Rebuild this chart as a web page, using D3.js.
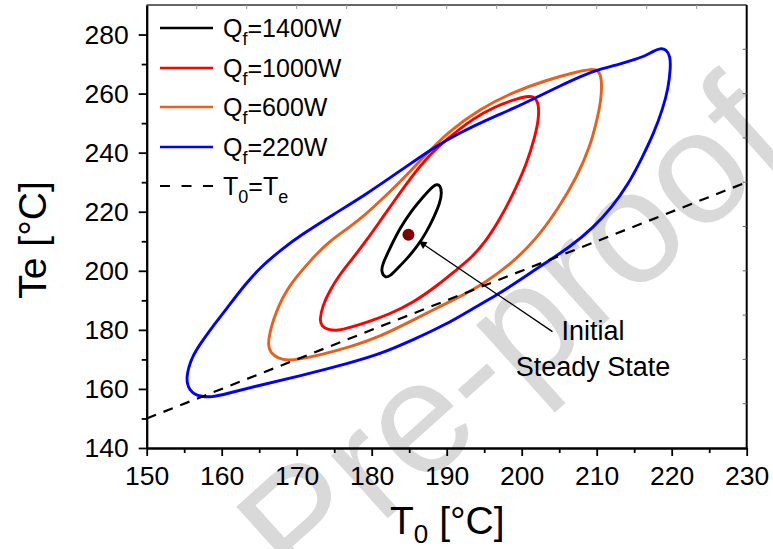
<!DOCTYPE html>
<html><head><meta charset="utf-8">
<script src="https://cdn.jsdelivr.net/npm/d3@7/dist/d3.min.js"></script>
<style>
body{margin:0;background:#fff}
svg{display:block}
text{font-family:"Liberation Sans",Arial,Helvetica,sans-serif}
</style>
</head><body>
<svg id="chart" width="773" height="549"></svg>
<script>
// ---------- data (T0 [°C], Te [°C]) ----------
const xMajorTicks = [150,160,170,180,190,200,210,220,230];
const xMinorTicks = [155,165,175,185,195,205,215,225];
const yMajorTicks = [140,160,180,200,220,240,260,280];
const yMinorTicks = [150,170,190,210,230,250,270];

const seriesNames  = ["Q_f=1400W","Q_f=1000W","Q_f=600W","Q_f=220W"];
const seriesLabels = ["1400W","1000W","600W","220W"];
const seriesColors = ["#000000","#ff0000","#e8601c","#0000ff"];

const loop1400 = [[181.77,197.6],[181.25,199.8],[181.45,202.3],[182.44,207.7],[183.77,214.5],[185.37,220.6],[186.84,225.0],[187.91,227.9],[188.57,229.4],[189.15,229.0],[189.35,226.4],[189.11,223.0],[188.31,218.2],[187.24,212.8],[186.04,208.1],[184.57,203.7],[183.24,200.3],[182.44,198.2]];

const loop1000 = [[173.05,183.3],[173.44,188.1],[174.44,193.5],[175.77,198.9],[177.37,203.9],[179.33,210.4],[181.11,216.8],[182.71,222.6],[185.51,232.6],[187.77,239.4],[190.04,244.6],[193.51,251.6],[196.44,255.6],[198.84,257.8],[200.71,259.2],[201.7,259.0],[202.3,256.5],[202.25,251.1],[201.77,245.5],[200.71,236.5],[198.97,226.6],[197.11,217.5],[195.11,209.6],[193.11,204.0],[191.51,200.8],[188.71,194.9],[185.51,189.2],[182.44,185.4],[179.33,182.5],[177.11,180.8],[175.51,179.7],[174.17,180.0],[173.31,181.3]];

const loop600 = [[166.15,174.9],[166.44,179.3],[166.88,183.3],[167.64,188.4],[168.67,193.5],[170.04,198.2],[171.77,203.3],[174.2,209.8],[177.11,214.9],[179.11,218.9],[181.11,223.6],[183.51,229.4],[186.84,238.3],[190.04,246.8],[194.44,254.9],[198.84,260.5],[203.33,264.6],[207.11,267.2],[209.37,268.4],[210.25,267.9],[210.7,265.0],[210.6,257.8],[210.04,251.1],[209.11,242.0],[207.37,231.8],[204.84,220.9],[201.91,210.6],[198.44,202.0],[194.84,195.5],[192.17,191.8],[188.71,187.4],[185.51,183.3],[181.11,177.7],[177.11,174.2],[173.11,171.5],[170.44,170.1],[168.84,169.6],[167.51,170.3],[166.5,172.3]];

const loop220 = [[155.35,164.0],[155.55,167.0],[156.1,171.0],[157.2,175.5],[158.6,180.5],[160.67,187.2],[163.11,195.4],[165.4,201.8],[168.17,207.6],[170.44,211.9],[174.84,219.0],[179.37,226.1],[183.77,233.8],[188.17,241.6],[191.77,246.8],[195.77,251.6],[198.84,254.9],[202.44,259.3],[205.11,262.6],[207.77,265.8],[210.44,268.3],[213.11,270.0],[215.24,271.7],[216.44,272.7],[217.51,274.3],[218.44,275.4],[219.3,274.9],[219.8,272.6],[219.85,268.7],[219.55,261.9],[218.84,255.1],[217.64,246.7],[216.04,238.2],[214.17,229.1],[212.04,221.6],[209.51,214.5],[206.44,208.1],[203.37,203.0],[201.51,199.9],[199.77,196.9],[196.71,191.8],[193.11,186.7],[190.04,182.0],[185.51,176.6],[181.11,171.8],[177.11,168.8],[170.44,164.4],[164.17,160.7],[160.44,158.2],[158.6,157.2],[157.3,157.4],[156.3,158.3],[155.7,159.8],[155.4,161.8]];

const diagonal = [[150,150],[230,230]];          // T0 = Te
const steadyState = [184.9, 212.2];               // initial steady state
const arrowFrom = [204.1, 179.4], arrowTo = [186.35, 209.9];
const annotationLines = ["Initial","Steady State"];

// ---------- layout ----------
const svg = d3.select("#chart");
const x = d3.scaleLinear().domain([150,230]).range([146.7,746.7]);
const y = d3.scaleLinear().domain([140,290]).range([448,5]);
const X0=x.range()[0], X1=x.range()[1], Y0=y.range()[0], Y1=y.range()[1];

svg.append("rect").attr("width",773).attr("height",549).attr("fill","#fff");

// watermark
svg.append("text")
  .attr("transform","translate(548,374) rotate(-42)")
  .attr("text-anchor","middle")
  .attr("font-size",160)
  .attr("fill","#d9d9d9")
  .text("Pre-proof");

// ---------- curves ----------
const line = d3.line().x(d=>x(d[0])).y(d=>y(d[1])).curve(d3.curveBasisClosed);
const loops = [loop1400, loop1000, loop600, loop220];
const gCurves = svg.append("g");
[0,1,2,3].forEach(i=>{
  gCurves.append("path").attr("d", line(loops[i]))
    .attr("fill","none").attr("stroke",seriesColors[i])
    .attr("stroke-width",2.9).attr("stroke-linejoin","round");
});

// diagonal
svg.append("path")
  .attr("d", d3.line().x(d=>x(d[0])).y(d=>y(d[1]))(diagonal))
  .attr("stroke","#000").attr("stroke-width",2.2).attr("stroke-dasharray","10,8").attr("fill","none");

// steady state dot
svg.append("circle").attr("cx",x(steadyState[0])).attr("cy",y(steadyState[1]))
  .attr("r",6).attr("fill","#7f0000");

// arrow
svg.append("defs").append("marker").attr("id","ah")
  .attr("viewBox","0 0 10 10").attr("refX",9).attr("refY",5)
  .attr("markerWidth",9).attr("markerHeight",8).attr("markerUnits","userSpaceOnUse")
  .attr("orient","auto")
  .append("path").attr("d","M0,0 L10,5 L0,10 Z").attr("fill","#000");
svg.append("line")
  .attr("x1",x(arrowFrom[0])).attr("y1",y(arrowFrom[1]))
  .attr("x2",x(arrowTo[0])).attr("y2",y(arrowTo[1]))
  .attr("stroke","#000").attr("stroke-width",1.3).attr("marker-end","url(#ah)");

const ann = svg.append("text").attr("font-size",27).attr("text-anchor","middle");
ann.append("tspan").attr("x",593).attr("y",340).text(annotationLines[0]);
ann.append("tspan").attr("x",593).attr("y",376).text(annotationLines[1]);

// ---------- axes ----------
svg.append("g").attr("transform",`translate(0,${Y0})`)
  .call(d3.axisBottom(x).tickValues(xMajorTicks).tickSize(8).tickSizeOuter(0).tickPadding(10).tickFormat(d3.format("d")));
svg.append("g").attr("transform",`translate(0,${Y0})`)
  .call(d3.axisBottom(x).tickValues(xMinorTicks).tickSize(5).tickSizeOuter(0).tickFormat(""));
svg.append("g").attr("transform",`translate(${X0},0)`)
  .call(d3.axisLeft(y).tickValues(yMajorTicks).tickSize(8).tickSizeOuter(0).tickPadding(10).tickFormat(d3.format("d")));
svg.append("g").attr("transform",`translate(${X0},0)`)
  .call(d3.axisLeft(y).tickValues(yMinorTicks).tickSize(5).tickSizeOuter(0).tickFormat(""));
svg.selectAll(".domain").attr("stroke","#000").attr("stroke-width",2);
svg.selectAll(".tick line").attr("stroke","#000").attr("stroke-width",1.8);
svg.selectAll(".tick text").attr("font-size",26.5).attr("fill","#000")
  .attr("font-family",'"Liberation Sans",Arial,sans-serif');

// top & right axis lines with fine ticks
const tTop = d3.scaleLinear().domain([0,12]).range([X0,X1]);
const tRight = d3.scaleLinear().domain([0,10]).range([Y0,Y1]);
svg.append("line").attr("x1",X0).attr("x2",X1).attr("y1",Y1).attr("y2",Y1).attr("stroke","#333").attr("stroke-width",1.6);
svg.append("line").attr("x1",X1).attr("x2",X1).attr("y1",Y1).attr("y2",Y0).attr("stroke","#000").attr("stroke-width",2);
svg.append("g").selectAll("line").data(d3.range(1,12)).join("line")
  .attr("x1",d=>tTop(d)).attr("x2",d=>tTop(d)).attr("y1",Y1).attr("y2",Y1+4)
  .attr("stroke","#999").attr("stroke-width",1);
svg.append("g").selectAll("line").data(d3.range(1,10)).join("line")
  .attr("x1",X1-4).attr("x2",X1).attr("y1",d=>tRight(d)).attr("y2",d=>tRight(d))
  .attr("stroke","#666").attr("stroke-width",1);

// axis titles
svg.append("text").attr("transform","translate(46,240) rotate(-90)")
  .attr("text-anchor","middle").attr("font-size",39).text("Te [°C]");
const xt = svg.append("text").attr("x",390).attr("y",534).attr("font-size",39);
xt.append("tspan").text("T");
xt.append("tspan").attr("font-size",26).attr("dy",9).text("0");
xt.append("tspan").attr("dy",-9).text(" [°C]");

// ---------- legend ----------
const lg = svg.append("g");
const rowY = [28,68,107,147,186];
seriesNames.forEach((n,i)=>{
  lg.append("line").attr("x1",160).attr("x2",213).attr("y1",rowY[i]).attr("y2",rowY[i])
    .attr("stroke",seriesColors[i]).attr("stroke-width",2.5);
  const t = lg.append("text").attr("x",223).attr("y",rowY[i]+9).attr("font-size",25);
  t.append("tspan").text("Q");
  t.append("tspan").attr("font-size",18).attr("dy",8).text("f");
  t.append("tspan").attr("dy",-8).text("=" + seriesLabels[i]);
});
lg.append("line").attr("x1",160).attr("x2",213).attr("y1",rowY[4]).attr("y2",rowY[4])
  .attr("stroke","#000").attr("stroke-width",2.2).attr("stroke-dasharray","10,11.5");
const tl = lg.append("text").attr("x",223).attr("y",rowY[4]+9).attr("font-size",25);
tl.append("tspan").text("T");
tl.append("tspan").attr("font-size",18).attr("dy",8).text("0");
tl.append("tspan").attr("dy",-8).text("=T");
tl.append("tspan").attr("font-size",18).attr("dy",8).text("e");
</script>
</body></html>
